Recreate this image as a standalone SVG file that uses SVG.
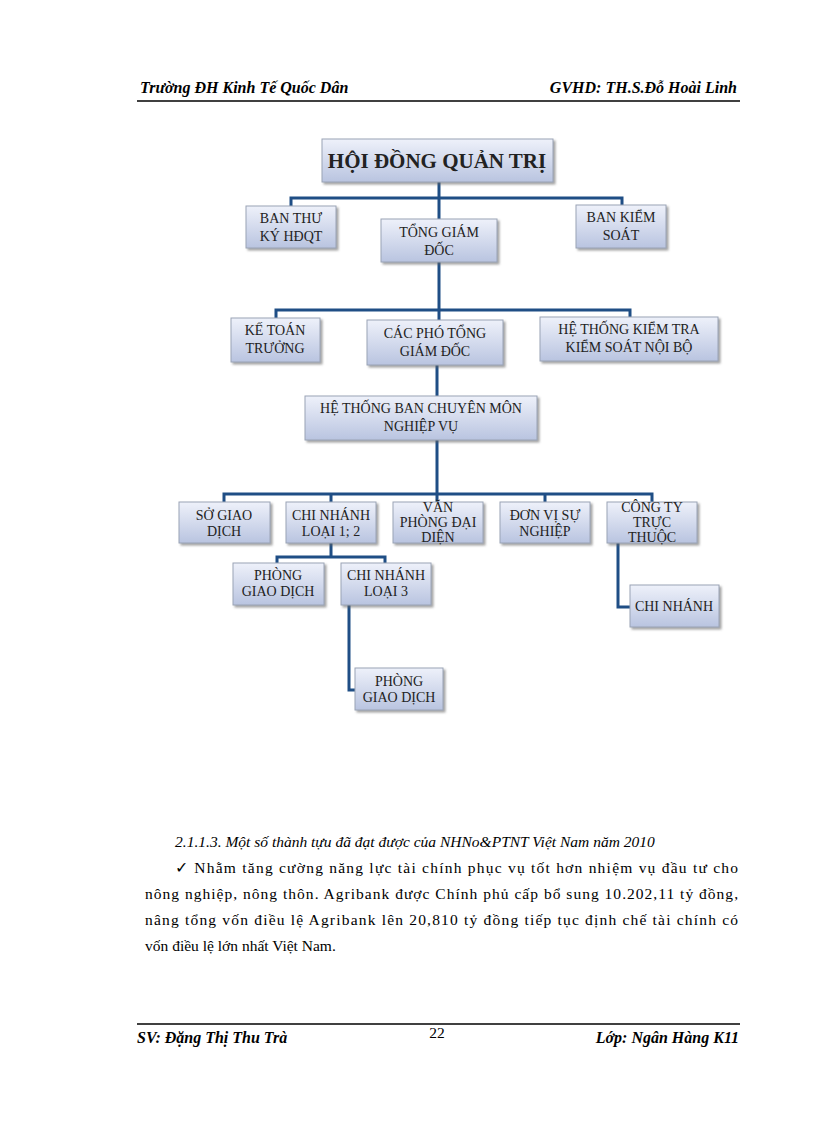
<svg xmlns="http://www.w3.org/2000/svg" width="816" height="1123" viewBox="0 0 816 1123">
<defs>
<linearGradient id="g" x1="0" y1="0" x2="0" y2="1"><stop offset="0" stop-color="#eef1fa"/><stop offset="1" stop-color="#b9c4e0"/></linearGradient>
<filter id="sh" x="-10%" y="-10%" width="130%" height="140%"><feDropShadow dx="2" dy="2" stdDeviation="1.2" flood-color="#666" flood-opacity="0.6"/></filter>
</defs>
<style>
.b{fill:url(#g);stroke:#9aa3b5;stroke-width:1;filter:url(#sh)}
.t{font-family:"Liberation Serif",serif;font-size:14px;fill:#222;text-anchor:middle}
.big{font-size:21px;font-weight:bold}
.c{fill:none;stroke:#1f4e85;stroke-width:3}
.h{font-family:"Liberation Serif",serif;font-size:16px;font-style:italic;font-weight:bold;fill:#000}
.p{font-family:"Liberation Serif",serif;font-size:15.5px;fill:#000}
</style>
<rect width="816" height="1123" fill="#fff"/>
<text class="h" x="140" y="93">Trường ĐH Kinh Tế Quốc Dân</text>
<text class="h" x="737" y="93" text-anchor="end">GVHD: TH.S.Đỗ Hoài Linh</text>
<line x1="137" y1="101" x2="740" y2="101" stroke="#000" stroke-width="1.5"/>
<g id="connectors">
<path class="c" d="M439 182V219M291 206V198H622V206"/>
<path class="c" d="M439 262V320M276 318V310H630V317"/>
<path class="c" d="M437 365V396M437 440V494M224 502V494H652V502M331 494V502M437 494V502M545 494V502"/>
<path class="c" d="M331 543V557M277 563V557H385V563"/>
<path class="c" d="M349 605V690H355"/>
<path class="c" d="M618 543V607H630"/>
</g>
<g id="hdqt"><rect class="b" x="322" y="139" width="231" height="43"/><text class="t big" x="437" y="168">HỘI ĐỒNG QUẢN TRỊ</text></g>
<g id="banthuky"><rect class="b" x="246" y="206" width="90" height="42"/><text class="t" x="291" y="223">BAN THƯ</text><text class="t" x="291" y="241">KÝ HĐQT</text></g>
<g id="tgd"><rect class="b" x="381" y="219" width="116" height="43"/><text class="t" x="439" y="237">TỔNG GIÁM</text><text class="t" x="439" y="255">ĐỐC</text></g>
<g id="bks"><rect class="b" x="576" y="205" width="90" height="43"/><text class="t" x="621" y="222">BAN KIỂM</text><text class="t" x="621" y="240">SOÁT</text></g>
<g id="ktt"><rect class="b" x="231" y="318" width="89" height="44"/><text class="t" x="275" y="335">KẾ TOÁN</text><text class="t" x="275" y="353">TRƯỞNG</text></g>
<g id="pho"><rect class="b" x="367" y="320" width="136" height="45"/><text class="t" x="435" y="338">CÁC PHÓ TỔNG</text><text class="t" x="435" y="356">GIÁM ĐỐC</text></g>
<g id="htkt"><rect class="b" x="540" y="317" width="178" height="44"/><text class="t" x="629" y="334">HỆ THỐNG KIỂM TRA</text><text class="t" x="629" y="352">KIỂM SOÁT NỘI BỘ</text></g>
<g id="htban"><rect class="b" x="305" y="396" width="232" height="44"/><text class="t" x="421" y="413">HỆ THỐNG BAN CHUYÊN MÔN</text><text class="t" x="421" y="431">NGHIỆP VỤ</text></g>
<g id="sgd"><rect class="b" x="179" y="502" width="91" height="41"/><text class="t" x="224" y="520">SỞ GIAO</text><text class="t" x="224" y="536">DỊCH</text></g>
<g id="cn12"><rect class="b" x="286" y="502" width="90" height="41"/><text class="t" x="331" y="520">CHI NHÁNH</text><text class="t" x="331" y="536">LOẠI 1; 2</text></g>
<g id="vpdd"><rect class="b" x="393" y="502" width="90" height="41"/><text class="t" x="438" y="512">VĂN</text><text class="t" x="438" y="527">PHÒNG ĐẠI</text><text class="t" x="438" y="542">DIỆN</text></g>
<g id="dvsn"><rect class="b" x="500" y="502" width="90" height="41"/><text class="t" x="545" y="520">ĐƠN VỊ SỰ</text><text class="t" x="545" y="536">NGHIỆP</text></g>
<g id="cty"><rect class="b" x="607" y="502" width="90" height="41"/><text class="t" x="652" y="512">CÔNG TY</text><text class="t" x="652" y="527">TRỰC</text><text class="t" x="652" y="542">THUỘC</text></g>
<g id="pgd1"><rect class="b" x="233" y="563" width="91" height="42"/><text class="t" x="278" y="580">PHÒNG</text><text class="t" x="278" y="596">GIAO DỊCH</text></g>
<g id="cn3"><rect class="b" x="341" y="563" width="90" height="42"/><text class="t" x="386" y="580">CHI NHÁNH</text><text class="t" x="386" y="596">LOẠI 3</text></g>
<g id="pgd2"><rect class="b" x="355" y="668" width="88" height="42"/><text class="t" x="399" y="686">PHÒNG</text><text class="t" x="399" y="702">GIAO DỊCH</text></g>
<g id="cn"><rect class="b" x="630" y="585" width="89" height="42"/><text class="t" x="674" y="611">CHI NHÁNH</text></g>
<text class="p" x="175" y="847" font-style="italic">2.1.1.3. Một số thành tựu đã đạt được của NHNo&amp;PTNT  Việt Nam năm 2010</text>
<text class="p" x="175" y="873" textLength="563" lengthAdjust="spacing">✓ Nhằm tăng cường năng lực tài chính phục vụ tốt hơn nhiệm vụ đầu tư cho</text>
<text class="p" x="145" y="899" textLength="593" lengthAdjust="spacing">nông nghiệp, nông thôn. Agribank  được Chính phủ cấp bổ sung 10.202,11 tỷ đồng,</text>
<text class="p" x="145" y="925" textLength="593" lengthAdjust="spacing">nâng tổng vốn điều lệ Agribank  lên 20,810 tỷ đồng tiếp tục định chế tài chính có</text>
<text class="p" x="145" y="951">vốn điều lệ lớn nhất Việt Nam.</text>
<line x1="137" y1="1024" x2="740" y2="1024" stroke="#000" stroke-width="1.5"/>
<text class="h" x="137" y="1043">SV: Đặng Thị Thu Trà</text>
<text class="p" x="437" y="1038" text-anchor="middle">22</text>
<text class="h" x="739" y="1043" text-anchor="end">Lớp: Ngân Hàng K11</text>
</svg>
